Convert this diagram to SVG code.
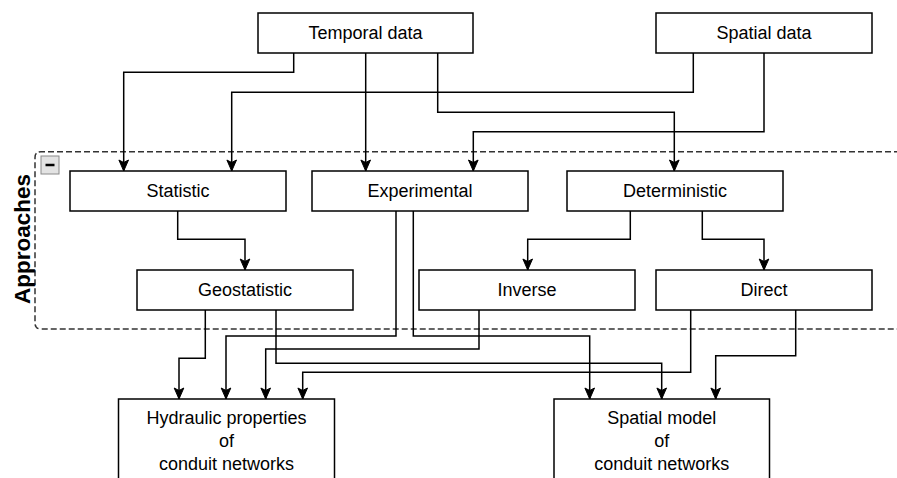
<svg xmlns="http://www.w3.org/2000/svg" width="897" height="478" viewBox="0 0 897 478">
<defs>
<marker id="arr" markerUnits="userSpaceOnUse" markerWidth="14" markerHeight="14" viewBox="-12 -6 14 12" refX="0" refY="0" orient="auto">
<path d="M-11,-4.8 L0,0 L-11,4.8 L-8.5,0 z" fill="#000" stroke="#000" stroke-width="1"/>
</marker>
<style>
.box{fill:#fff;stroke:#000;stroke-width:1.5}
.t{font-family:"Liberation Sans",Arial,sans-serif;font-size:18px;fill:#000;text-anchor:middle}
.c{fill:none;stroke:#000;stroke-width:1.5;marker-end:url(#arr)}
</style>
</defs>
<rect width="897" height="478" fill="#fff"/>
<g id="approaches">
<path d="M900,151.7 H41 Q35,151.7 35,157.7 V323 Q35,329 41,329 H900" fill="none" stroke="#333" stroke-width="1.5" stroke-dasharray="6,3"/>
<rect x="41" y="156" width="18" height="18" fill="#e3e3e3" stroke="#8a8a8a" stroke-width="1"/>
<line x1="45.5" y1="165" x2="54.5" y2="165" stroke="#000" stroke-width="2.5"/>
<text x="22.5" y="239" transform="rotate(-90 22.5 239)" font-family="'Liberation Sans',Arial,sans-serif" font-size="22.5" font-weight="bold" text-anchor="middle" dominant-baseline="central">Approaches</text>
</g>
<g id="connectors">
<path class="c" d="M293.7,53 V72.3 H123.7 V171"/>
<path class="c" d="M365.7,53 V171"/>
<path class="c" d="M437.7,53 V112.3 H674.3 V171"/>
<path class="c" d="M693.3,53 V92.3 H231.7 V171"/>
<path class="c" d="M764,53 V131.7 H473.3 V171"/>
<path class="c" d="M177.7,211 V239.3 H245 V270"/>
<path class="c" d="M630.3,211 V239.3 H527.7 V270"/>
<path class="c" d="M702.3,211 V239.3 H764 V270"/>
<path class="c" d="M205.3,310 V358.3 H179 V399"/>
<path class="c" d="M276,310 V363.3 H661.7 V399"/>
<path class="c" d="M690.7,310 V372.3 H302.7 V399"/>
<path class="c" d="M396,211 V336 H226 V399"/>
<path class="c" d="M413.3,211 V336 H589.7 V399"/>
<path class="c" d="M479,310 V349 H265.7 V399"/>
<path class="c" d="M795.7,310 V355.7 H715.7 V399"/>
</g>
<g id="temporal"><rect class="box" x="258" y="13" width="215" height="40"/><text class="t" x="365.5" y="39.4">Temporal data</text></g>
<g id="spatial"><rect class="box" x="656" y="13" width="216" height="40"/><text class="t" x="764" y="39.4">Spatial data</text></g>
<g id="statistic"><rect class="box" x="70" y="171" width="216" height="40"/><text class="t" x="178" y="197.4">Statistic</text></g>
<g id="experimental"><rect class="box" x="312" y="171" width="216" height="40"/><text class="t" x="420" y="197.4">Experimental</text></g>
<g id="deterministic"><rect class="box" x="567" y="171" width="216" height="40"/><text class="t" x="675" y="197.4">Deterministic</text></g>
<g id="geostatistic"><rect class="box" x="137" y="270" width="216" height="40"/><text class="t" x="245" y="296.4">Geostatistic</text></g>
<g id="inverse"><rect class="box" x="419" y="270" width="216" height="40"/><text class="t" x="527" y="296.4">Inverse</text></g>
<g id="direct"><rect class="box" x="656" y="270" width="216" height="40"/><text class="t" x="764" y="296.4">Direct</text></g>
<g id="hydraulic"><rect class="box" x="118.5" y="399" width="216" height="90"/><text class="t" x="226.5" y="423.5">Hydraulic properties</text><text class="t" x="226.5" y="446.5">of</text><text class="t" x="226.5" y="469.5">conduit networks</text></g>
<g id="spatialmodel"><rect class="box" x="554" y="399" width="215.5" height="90"/><text class="t" x="661.7" y="423.5">Spatial model</text><text class="t" x="661.7" y="446.5">of</text><text class="t" x="661.7" y="469.5">conduit networks</text></g>
</svg>
